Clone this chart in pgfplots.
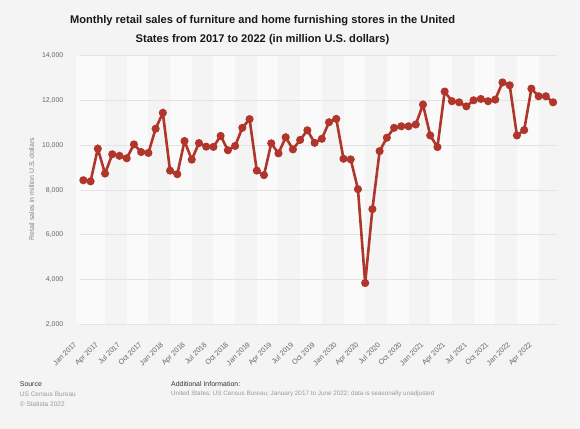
\documentclass[border=0pt]{standalone}
\usepackage{pgfplots}
\pgfplotsset{compat=1.18}
\usepackage{fontspec}
\setmainfont{Liberation Sans}
\definecolor{bg}{HTML}{F4F4F4}
\definecolor{bandlight}{HTML}{FAFAFA}
\definecolor{banddark}{HTML}{F4F4F4}
\definecolor{gridc}{HTML}{E3E3E3}
\definecolor{linec}{HTML}{B0352B}
\definecolor{tickc}{HTML}{666666}
\definecolor{srcc}{HTML}{333333}
\definecolor{lightc}{HTML}{9A9A9A}
\pgfplotstableread{
idx val
0 8440
1 8390
2 9850
3 8740
4 9600
5 9530
6 9420
7 10040
8 9700
9 9660
10 10740
11 11450
12 8870
13 8710
14 10190
15 9360
16 10100
17 9940
18 9930
19 10420
20 9780
21 9970
22 10780
23 11170
24 8870
25 8670
26 10090
27 9640
28 10360
29 9820
30 10240
31 10670
32 10110
33 10290
34 11030
35 11180
36 9400
37 9370
38 8040
39 3850
40 7150
41 9740
42 10340
43 10780
44 10850
45 10850
46 10930
47 11820
48 10440
49 9920
50 12400
51 11970
52 11920
53 11740
54 12010
55 12070
56 11970
57 12040
58 12810
59 12680
60 10440
61 10680
62 12530
63 12190
64 12190
65 11920
}\datatable
\begin{document}
\pagecolor{bg}
\begin{tikzpicture}[x=1bp,y=1bp]
\path (0,0) rectangle (580,431);
\node[anchor=base, font=\fontsize{11.2}{12}\selectfont\bfseries, text=black!90] at (261,407) {Monthly retail sales of furniture and home furnishing stores in the United};
\node[anchor=base, font=\fontsize{11.2}{12}\selectfont\bfseries, text=black!90] at (261,388) {States from 2017 to 2022 (in million U.S. dollars)};
\begin{axis}[
  at={(78bp,105bp)}, anchor=south west,
  scale only axis, width=479bp, height=270bp,
  set layers,
  xmin=-0.41, xmax=65.56, ymin=2000, ymax=14000,
  axis background/.style={fill=banddark},
  axis line style={draw=none},
  tick style={draw=none},
  ymajorgrids, grid style={draw=gridc, line width=0.8bp},
  ytick={2000,4000,...,14000},
  scaled y ticks=false,
  /pgf/number format/1000 sep={,},
  /pgf/number format/assume math mode=true,
  yticklabel style={font=\fontsize{7}{8}\selectfont, text=tickc, anchor=east, inner sep=0pt, xshift=-17bp},
  xtick={0,3,...,63},
  xticklabels={Jan 2017, Apr 2017, Jul 2017, Oct 2017, Jan 2018, Apr 2018, Jul 2018, Oct 2018, Jan 2019, Apr 2019, Jul 2019, Oct 2019, Jan 2020, Apr 2020, Jul 2020, Oct 2020, Jan 2021, Apr 2021, Jul 2021, Oct 2021, Jan 2022, Apr 2022},
  xticklabel style={font=\fontsize{7.3}{8}\selectfont, text=tickc, rotate=45, anchor=north east, inner sep=0pt, yshift=-5bp, xshift=-19bp},
  clip=true,
]
\begin{pgfonlayer}{axis background}
\fill[bandlight] (axis cs:-1,2000) rectangle (axis cs:3,14000);
\pgfplotsinvokeforeach{1,...,10}{
  \fill[bandlight] (axis cs:{6*#1},2000) rectangle (axis cs:{6*#1+3},14000);
}
\end{pgfonlayer}
\addplot[color=linec, line width=2.6bp, mark=*, mark size=2.7bp, mark options={solid, fill=linec, draw=none}] table[x=idx, y=val] {\datatable};
\end{axis}
\node[rotate=90, font=\fontsize{7}{8}\selectfont, text=lightc!85!black] at (29,241) {Retail sales in million U.S. dollars};
\node[anchor=base west, inner sep=0pt, font=\fontsize{7}{8}\selectfont, text=srcc] at (17,43) {Source};
\node[anchor=base west, inner sep=0pt, font=\fontsize{6.6}{8}\selectfont, text=lightc] at (17,33) {US Census Bureau};
\node[anchor=base west, inner sep=0pt, font=\fontsize{6.6}{8}\selectfont, text=lightc] at (17,23) {\textcopyright\ Statista 2022};
\node[anchor=base west, inner sep=0pt, font=\fontsize{7}{8}\selectfont, text=srcc] at (169,43) {Additional Information:};
\node[anchor=base west, inner sep=0pt, font=\fontsize{6.4}{8}\selectfont, text=lightc] at (169,34) {United States; US Census Bureau; January 2017 to June 2022; data is seasonally unadjusted};
\end{tikzpicture}
\end{document}
